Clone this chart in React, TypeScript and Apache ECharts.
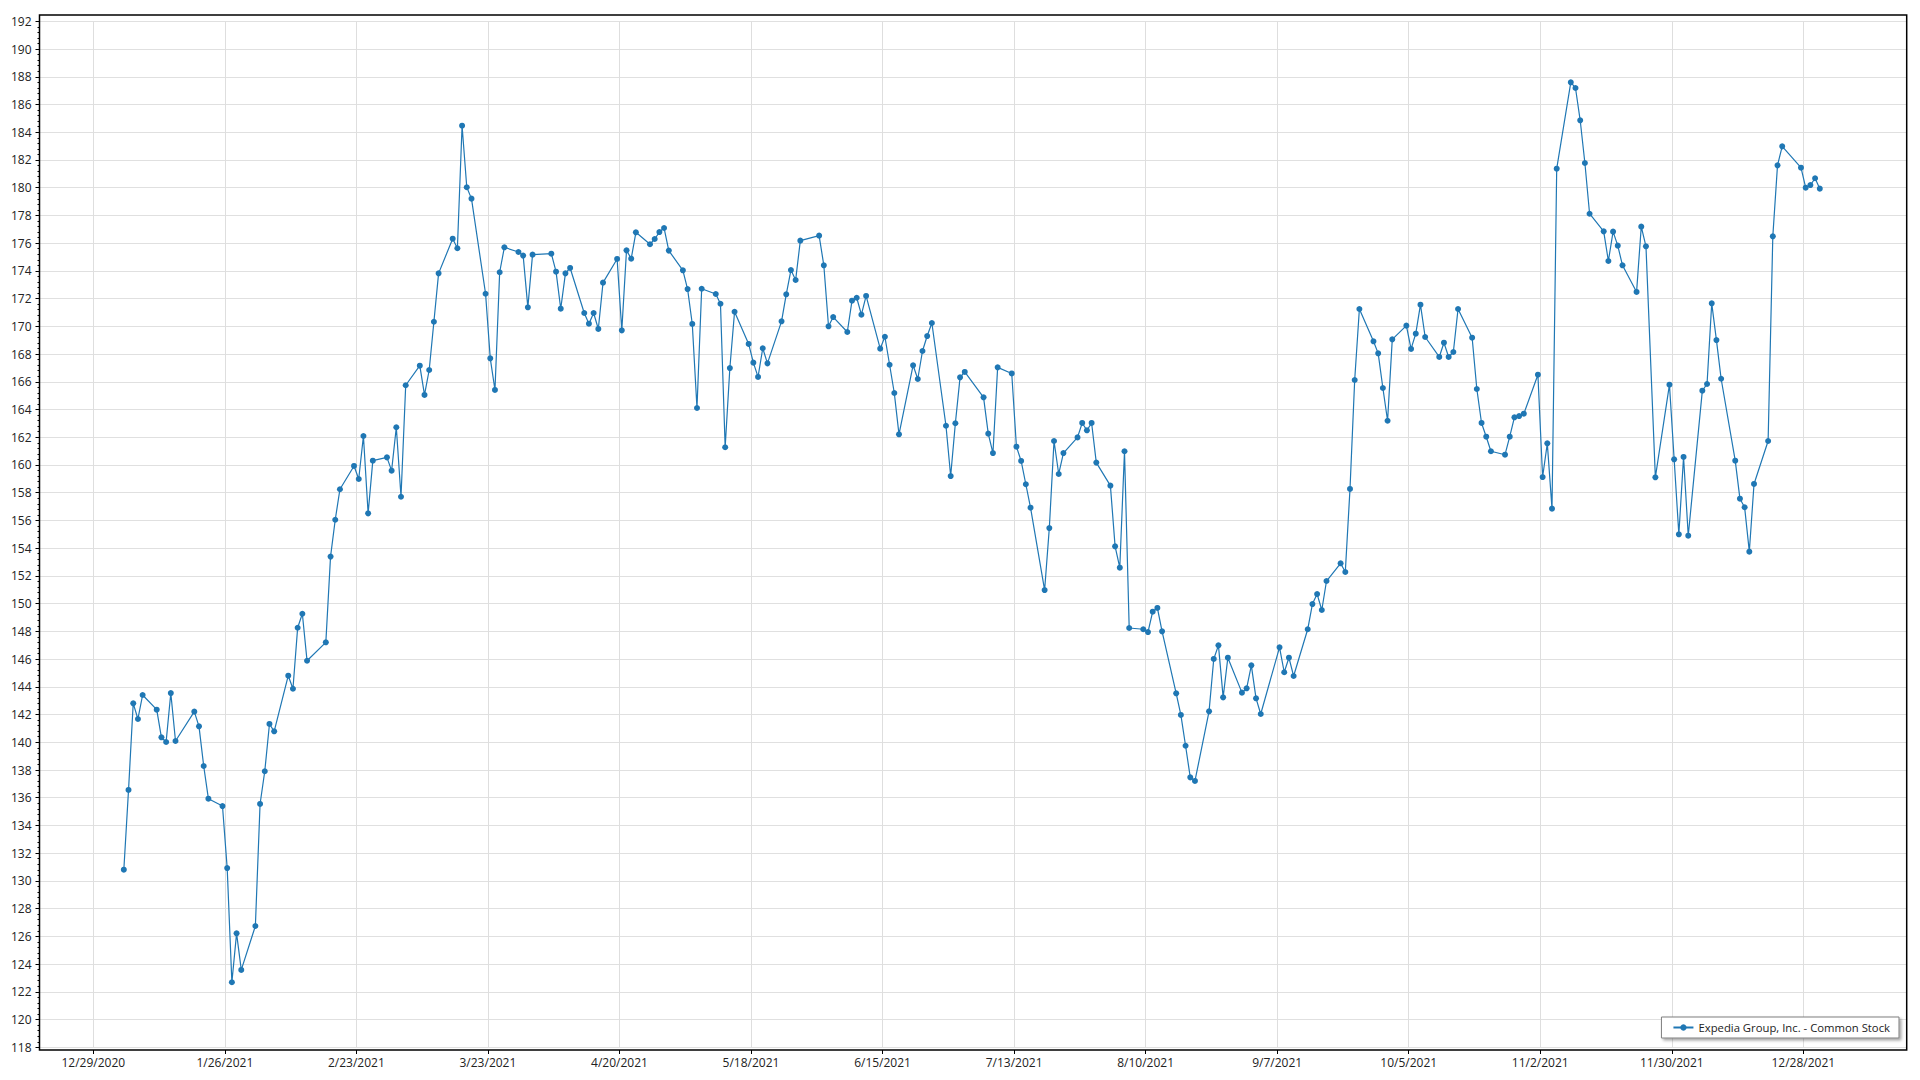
import React, { useEffect, useRef } from "react";
import * as echarts from "echarts";

// Trading dates (2021) and closing prices
const dates: string[] = [
  "2021-01-04", "2021-01-05", "2021-01-06", "2021-01-07", "2021-01-08",
  "2021-01-11", "2021-01-12", "2021-01-13", "2021-01-14", "2021-01-15",
  "2021-01-19", "2021-01-20", "2021-01-21", "2021-01-22",
  "2021-01-25", "2021-01-26", "2021-01-27", "2021-01-28", "2021-01-29",
  "2021-02-01", "2021-02-02", "2021-02-03", "2021-02-04", "2021-02-05",
  "2021-02-08", "2021-02-09", "2021-02-10", "2021-02-11", "2021-02-12",
  "2021-02-16", "2021-02-17", "2021-02-18", "2021-02-19",
  "2021-02-22", "2021-02-23", "2021-02-24", "2021-02-25", "2021-02-26",
  "2021-03-01", "2021-03-02", "2021-03-03", "2021-03-04", "2021-03-05",
  "2021-03-08", "2021-03-09", "2021-03-10", "2021-03-11", "2021-03-12",
  "2021-03-15", "2021-03-16", "2021-03-17", "2021-03-18", "2021-03-19",
  "2021-03-22", "2021-03-23", "2021-03-24", "2021-03-25", "2021-03-26",
  "2021-03-29", "2021-03-30", "2021-03-31", "2021-04-01",
  "2021-04-05", "2021-04-06", "2021-04-07", "2021-04-08", "2021-04-09",
  "2021-04-12", "2021-04-13", "2021-04-14", "2021-04-15", "2021-04-16",
  "2021-04-19", "2021-04-20", "2021-04-21", "2021-04-22", "2021-04-23",
  "2021-04-26", "2021-04-27", "2021-04-28", "2021-04-29", "2021-04-30",
  "2021-05-03", "2021-05-04", "2021-05-05", "2021-05-06", "2021-05-07",
  "2021-05-10", "2021-05-11", "2021-05-12", "2021-05-13", "2021-05-14",
  "2021-05-17", "2021-05-18", "2021-05-19", "2021-05-20", "2021-05-21",
  "2021-05-24", "2021-05-25", "2021-05-26", "2021-05-27", "2021-05-28",
  "2021-06-01", "2021-06-02", "2021-06-03", "2021-06-04",
  "2021-06-07", "2021-06-08", "2021-06-09", "2021-06-10", "2021-06-11",
  "2021-06-14", "2021-06-15", "2021-06-16", "2021-06-17", "2021-06-18",
  "2021-06-21", "2021-06-22", "2021-06-23", "2021-06-24", "2021-06-25",
  "2021-06-28", "2021-06-29", "2021-06-30", "2021-07-01", "2021-07-02",
  "2021-07-06", "2021-07-07", "2021-07-08", "2021-07-09",
  "2021-07-12", "2021-07-13", "2021-07-14", "2021-07-15", "2021-07-16",
  "2021-07-19", "2021-07-20", "2021-07-21", "2021-07-22", "2021-07-23",
  "2021-07-26", "2021-07-27", "2021-07-28", "2021-07-29", "2021-07-30",
  "2021-08-02", "2021-08-03", "2021-08-04", "2021-08-05", "2021-08-06",
  "2021-08-09", "2021-08-10", "2021-08-11", "2021-08-12", "2021-08-13",
  "2021-08-16", "2021-08-17", "2021-08-18", "2021-08-19", "2021-08-20",
  "2021-08-23", "2021-08-24", "2021-08-25", "2021-08-26", "2021-08-27",
  "2021-08-30", "2021-08-31", "2021-09-01", "2021-09-02", "2021-09-03",
  "2021-09-07", "2021-09-08", "2021-09-09", "2021-09-10",
  "2021-09-13", "2021-09-14", "2021-09-15", "2021-09-16", "2021-09-17",
  "2021-09-20", "2021-09-21", "2021-09-22", "2021-09-23", "2021-09-24",
  "2021-09-27", "2021-09-28", "2021-09-29", "2021-09-30", "2021-10-01",
  "2021-10-04", "2021-10-05", "2021-10-06", "2021-10-07", "2021-10-08",
  "2021-10-11", "2021-10-12", "2021-10-13", "2021-10-14", "2021-10-15",
  "2021-10-18", "2021-10-19", "2021-10-20", "2021-10-21", "2021-10-22",
  "2021-10-25", "2021-10-26", "2021-10-27", "2021-10-28", "2021-10-29",
  "2021-11-01", "2021-11-02", "2021-11-03", "2021-11-04", "2021-11-05",
  "2021-11-08", "2021-11-09", "2021-11-10", "2021-11-11", "2021-11-12",
  "2021-11-15", "2021-11-16", "2021-11-17", "2021-11-18", "2021-11-19",
  "2021-11-22", "2021-11-23", "2021-11-24", "2021-11-26",
  "2021-11-29", "2021-11-30", "2021-12-01", "2021-12-02", "2021-12-03",
  "2021-12-06", "2021-12-07", "2021-12-08", "2021-12-09", "2021-12-10",
  "2021-12-13", "2021-12-14", "2021-12-15", "2021-12-16", "2021-12-17",
  "2021-12-20", "2021-12-21", "2021-12-22", "2021-12-23",
  "2021-12-27", "2021-12-28", "2021-12-29", "2021-12-30", "2021-12-31",
];

const prices: number[] = [
  130.81, 136.56, 142.81, 141.68, 143.41,
  142.35, 140.36, 140.02, 143.55, 140.09,
  142.21, 141.15, 138.29, 135.93,
  135.4, 130.93, 122.69, 126.22, 123.58,
  126.75, 135.55, 137.91, 141.32, 140.79,
  144.8, 143.86, 148.26, 149.27, 145.88,
  147.21, 153.39, 156.05, 158.25,
  159.93, 158.99, 162.09, 156.51, 160.31,
  160.55, 159.59, 162.72, 157.71, 165.75,
  167.16, 165.05, 166.85, 170.33, 173.82,
  176.32, 175.63, 184.47, 180.03, 179.21,
  172.35, 167.69, 165.41, 173.9, 175.7,
  175.36, 175.1, 171.37, 175.17,
  175.24, 173.94, 171.27, 173.82, 174.21,
  170.96, 170.19, 170.96, 169.81, 173.15,
  174.86, 169.71, 175.48, 174.88, 176.78,
  175.92, 176.3, 176.8, 177.09, 175.46,
  174.04, 172.69, 170.17, 164.11, 172.71,
  172.33, 171.63, 161.28, 166.99, 171.05,
  168.73, 167.38, 166.35, 168.42, 167.33,
  170.36, 172.31, 174.06, 173.34, 176.18,
  176.54, 174.4, 170.0, 170.67,
  169.59, 171.85, 172.06, 170.84, 172.19,
  168.39, 169.25, 167.23, 165.19, 162.21,
  167.19, 166.2, 168.22, 169.3, 170.24,
  162.83, 159.2, 163.01, 166.32, 166.71,
  164.88, 162.26, 160.86, 167.04,
  166.6, 161.32, 160.29, 158.61, 156.92,
  150.98, 155.45, 161.73, 159.35, 160.86,
  161.99, 163.03, 162.5, 163.03, 160.17,
  158.51, 154.13, 152.59, 160.99, 148.24,
  148.15, 147.95, 149.42, 149.69, 148.0,
  143.53, 141.97, 139.75, 137.47, 137.21,
  142.23, 146.01, 146.99, 143.24, 146.1,
  143.58, 143.89, 145.55, 143.17, 142.04,
  146.85, 145.05, 146.1, 144.78,
  148.15, 149.97, 150.69, 149.54, 151.63,
  152.91, 152.28, 158.27, 166.13, 171.25,
  168.92, 168.05, 165.55, 163.19, 169.06,
  170.05, 168.37, 169.47, 171.56, 169.23,
  167.79, 168.82, 167.79, 168.15, 171.25,
  169.18, 165.48, 163.03, 162.04, 160.99,
  160.74, 162.04, 163.44, 163.53, 163.7,
  166.51, 159.13, 161.56, 156.85, 181.37,
  187.6, 187.19, 184.86, 181.78, 178.12,
  176.85, 174.71, 176.83, 175.82, 174.4,
  172.48, 177.19, 175.77, 159.11,
  165.79, 160.41, 155.0, 160.58, 154.9,
  165.36, 165.84, 171.66, 169.01, 166.22,
  160.31, 157.57, 156.95, 153.75, 158.63,
  161.73, 176.49, 181.61, 182.98,
  181.44, 180.0, 180.19, 180.68, 179.93,
];

// X-axis tick label dates (every 28 days)
const xTickDates: string[] = [
  "2020-12-29", "2021-01-26", "2021-02-23", "2021-03-23", "2021-04-20",
  "2021-05-18", "2021-06-15", "2021-07-13", "2021-08-10", "2021-09-07",
  "2021-10-05", "2021-11-02", "2021-11-30", "2021-12-28",
];

const seriesName = "Expedia Group, Inc. - Common Stock";

const yMin = 118;
const yMax = 192;
const yStep = 2;

const ORIGIN = Date.UTC(2020, 11, 29);
const DAY = 86400000;
const toDay = (s: string) => {
  const [y, m, d] = s.split("-").map(Number);
  return (Date.UTC(y, m - 1, d) - ORIGIN) / DAY;
};
const fmtDay = (v: number) => {
  const dt = new Date(ORIGIN + Math.round(v) * DAY);
  return `${dt.getUTCMonth() + 1}/${dt.getUTCDate()}/${dt.getUTCFullYear()}`;
};

const FONT = "'Segoe UI', 'Open Sans', 'Noto Sans', sans-serif";

export default function App() {
  const ref = useRef<HTMLDivElement>(null);

  useEffect(() => {
    if (!ref.current) return;
    const chart = echarts.init(ref.current, undefined, { renderer: "svg" });
    const xTicks = xTickDates.map(toDay);
    // closing prices are time-stamped at midday
    const data = dates.map((s, i) => [toDay(s) + 0.5, prices[i]]);

    const plotLeft = 39.5;
    const plotRight = 1906.7;
    const plotTop = 15;
    const plotBottom = 1050;

    chart.setOption({
      animation: false,
      backgroundColor: "#ffffff",
      textStyle: { fontFamily: FONT },
      grid: {
        left: plotLeft,
        right: 1920 - plotRight,
        top: 21.3,
        bottom: 1080 - 1047.3,
        containLabel: false,
      },
      xAxis: {
        type: "value",
        min: -11.45,
        max: 386.0,
        offset: 2.7,
        axisLine: { show: false, onZero: false },
        axisTick: {
          show: true,
          customValues: xTicks,
          length: 4,
          lineStyle: { color: "#000", width: 1 },
        },
        axisLabel: {
          customValues: xTicks,
          formatter: (v: number) => fmtDay(v),
          margin: 6,
          fontSize: 12,
          color: "#222",
          fontFamily: FONT,
        },
        splitLine: {
          show: true,
          lineStyle: { color: "#dedede", width: 1 },
        },
      },
      yAxis: {
        type: "value",
        min: yMin,
        max: yMax,
        interval: yStep,
        axisLine: { show: false, onZero: false },
        axisTick: {
          show: true,
          length: 4,
          lineStyle: { color: "#000", width: 1 },
        },
        minorTick: {
          show: true,
          splitNumber: 5,
          length: 2,
          lineStyle: { color: "#000", width: 1 },
        },
        axisLabel: {
          margin: 8,
          fontSize: 12,
          color: "#222",
          fontFamily: FONT,
        },
        splitLine: {
          show: true,
          lineStyle: { color: "#e0e0e0", width: 1 },
        },
      },
      legend: {
        data: [seriesName],
        right: 1920 - 1899,
        bottom: 1080 - 1038,
        orient: "horizontal",
        padding: [5, 9, 5, 11],
        itemWidth: 20,
        itemHeight: 8,
        itemGap: 6,
        backgroundColor: "#ffffff",
        borderColor: "#7f7f7f",
        borderWidth: 1,
        borderRadius: 0,
        shadowColor: "rgba(0,0,0,0.35)",
        shadowBlur: 3,
        shadowOffsetX: 2,
        shadowOffsetY: 2,
        textStyle: { fontSize: 11.3, color: "#222", fontFamily: FONT },
      },
      graphic: [
        {
          type: "rect",
          silent: true,
          z: 100,
          shape: {
            x: plotLeft,
            y: plotTop,
            width: plotRight - plotLeft,
            height: plotBottom - plotTop,
          },
          style: { fill: "none", stroke: "#000", lineWidth: 1.5 },
        },
      ],
      series: [
        {
          name: seriesName,
          type: "line",
          data,
          symbol: "circle",
          symbolSize: 6,
          showSymbol: true,
          showAllSymbol: true,
          color: "#1f77b4",
          lineStyle: { width: 1.2, color: "#1f77b4" },
          itemStyle: { color: "#1f77b4" },
          emphasis: { disabled: true },
        },
      ],
    });

    return () => chart.dispose();
  }, []);

  return (
    <div
      ref={ref}
      style={{ position: "fixed", left: 0, top: 0, width: 1920, height: 1080, background: "#fff" }}
    />
  );
}
